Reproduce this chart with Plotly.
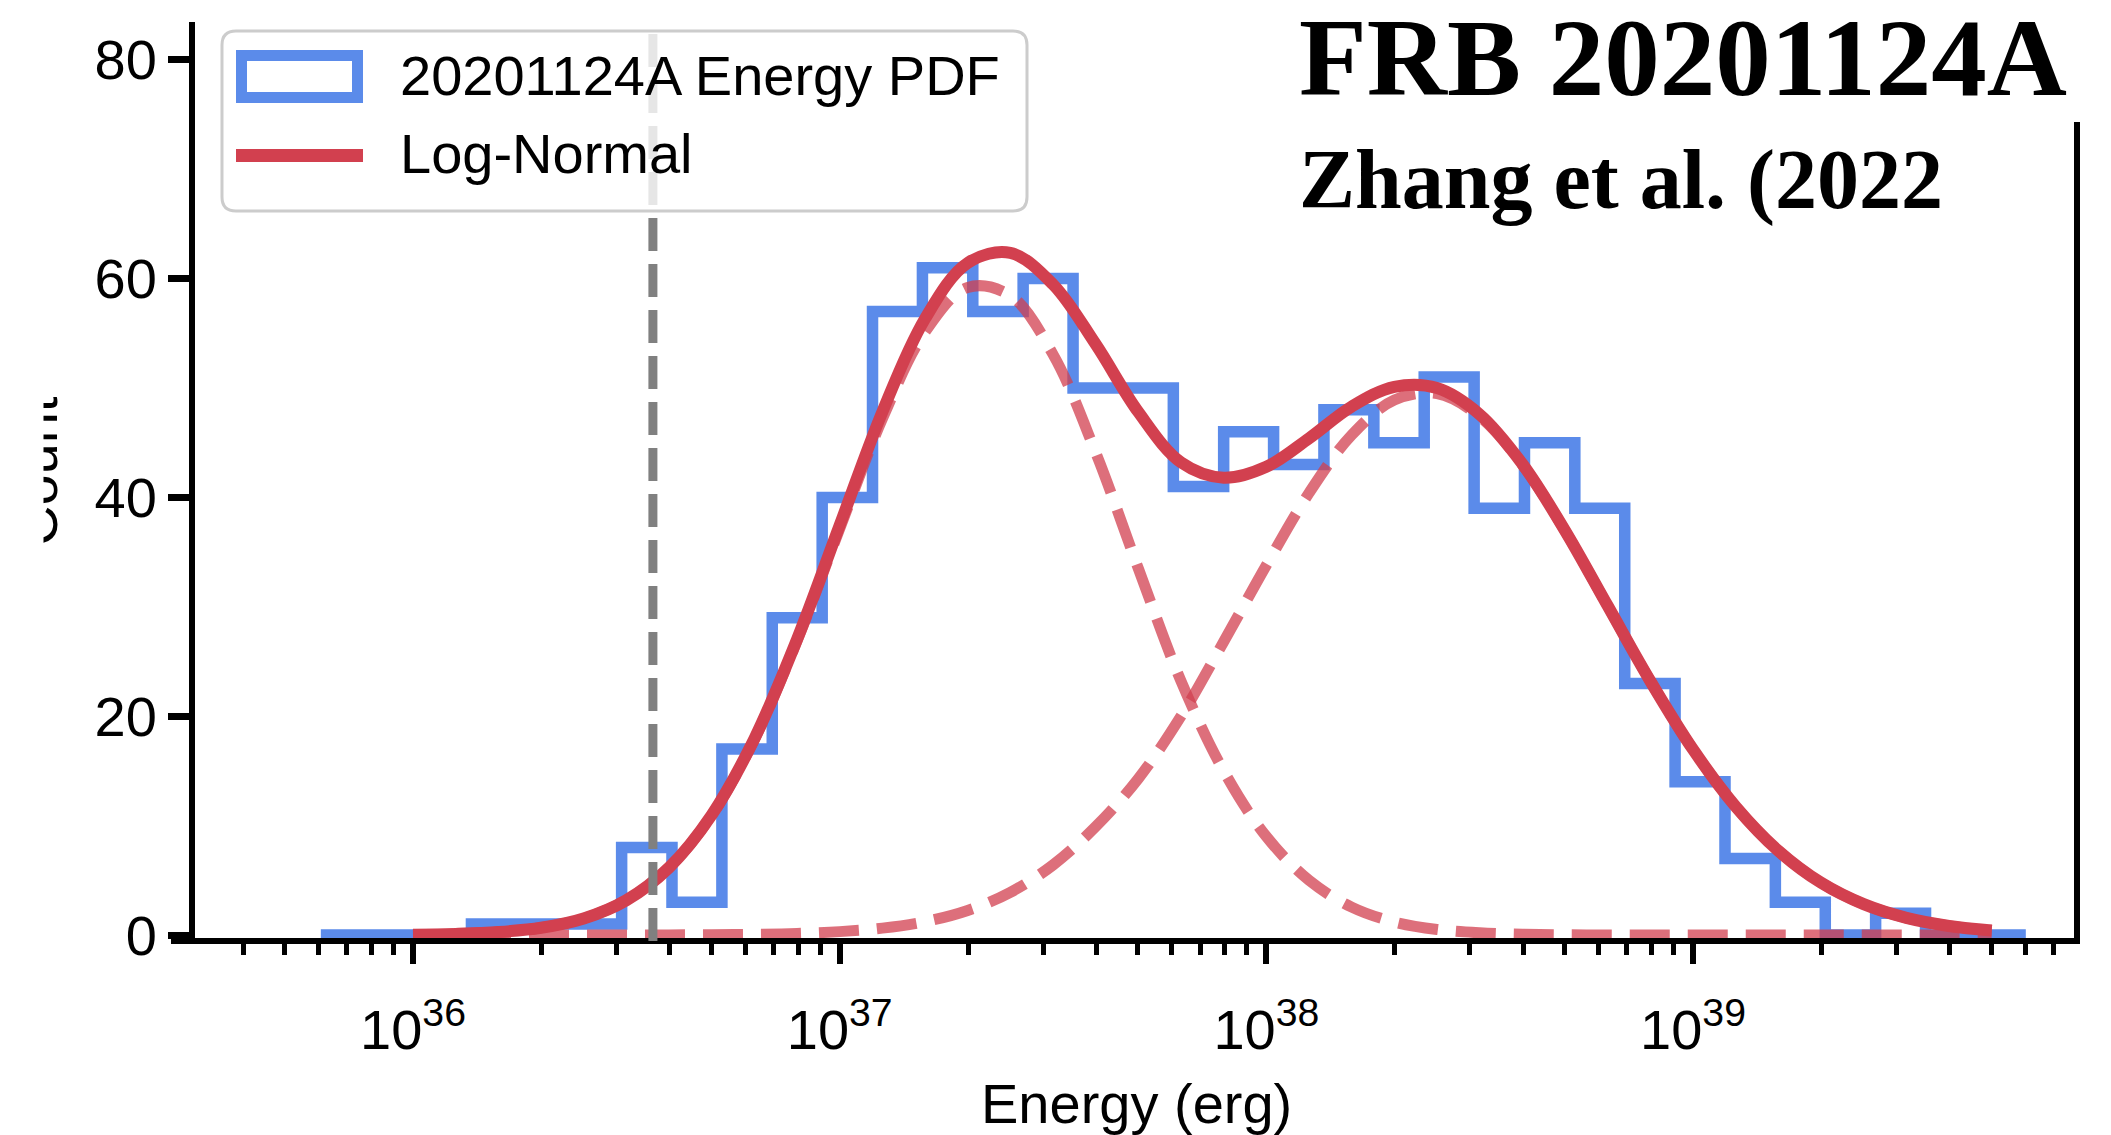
import plotly.graph_objects as go

# ---------------- data ----------------
# step histogram: bin edges (log10 erg) and counts per bin
bin_edges_log10 = [35.784, 35.902, 36.019, 36.137, 36.254, 36.372, 36.489, 36.607,
                   36.724, 36.842, 36.959, 37.077, 37.194, 37.312, 37.430, 37.547,
                   37.665, 37.782, 37.900, 38.017, 38.135, 38.252, 38.370, 38.487,
                   38.605, 38.723, 38.840, 38.958, 39.075, 39.193, 39.310, 39.428,
                   39.545, 39.663, 39.780]
bin_counts = [0, 0, 0, 1, 1, 1, 8, 3, 17, 29, 40, 57, 61, 57, 60, 50, 50, 41,
              46, 43, 48, 45, 51, 39, 45, 39, 23, 14, 7, 3, 0, 2, 0, 0]

# log-normal curves (log10 erg, count)
curve_log10_energy = [36.0, 36.1, 36.2, 36.3, 36.4, 36.5, 36.6, 36.7, 36.8, 36.9,
                      37.0, 37.1, 37.2, 37.3, 37.4, 37.5, 37.6, 37.7, 37.8, 37.9,
                      38.0, 38.1, 38.2, 38.3, 38.4, 38.5, 38.6, 38.7, 38.8, 38.9,
                      39.0, 39.1, 39.2, 39.3, 39.4, 39.5, 39.6, 39.7]
lognormal_total = [0.03, 0.10, 0.27, 0.66, 1.51, 3.18, 6.16, 10.97, 17.93, 27.01,
                   37.44, 47.81, 56.33, 61.43, 62.35, 59.47, 54.0, 47.8, 43.2, 41.8,
                   42.8, 45.4, 48.3, 50.1, 49.99, 47.58, 43.06, 36.97, 30.09, 23.21,
                   16.96, 11.74, 7.70, 4.78, 2.82, 1.57, 0.83, 0.42]
lognormal_low = [0.03, 0.10, 0.27, 0.66, 1.51, 3.18, 6.15, 10.94, 17.87, 26.87,
                 37.13, 47.18, 55.11, 59.19, 58.45, 53.07, 44.10, 33.50, 23.20, 15.00,
                 9.00, 5.00, 2.55, 1.19, 0.51, 0.20, 0.07, 0.02, 0.01, 0.0,
                 0.0, 0.0, 0.0, 0.0, 0.0, 0.0, 0.0, 0.0]
lognormal_high = [0.0, 0.0, 0.0, 0.0, 0.0, 0.0, 0.01, 0.03, 0.06, 0.14,
                  0.31, 0.63, 1.22, 2.24, 3.90, 6.40, 9.90, 14.30, 20.00, 26.80,
                  33.80, 40.40, 45.70, 48.90, 49.48, 47.38, 42.99, 36.95, 30.08, 23.21,
                  16.96, 11.74, 7.70, 4.78, 2.82, 1.57, 0.83, 0.42]

threshold_energy = 3.65e36
major_tick_exponents = [36, 37, 38, 39]
y_tick_values = [0, 20, 40, 60, 80]

hist_label = "20201124A Energy PDF"
fit_label = "Log-Normal"
title_line1 = "FRB 20201124A"
title_line2 = "Zhang et al. (2022"
x_title = "Energy (erg)"
y_title = "Count"

# ---------------- styling / layout geometry ----------------
W, H = 2111, 1135
PL, PR, PT, PB = 195, 2077, 22, 938
BLUE = "#5b8bea"
RED = "#d2404f"
GRAY = "#808080"
SANS = "Liberation Sans, Arial, sans-serif"
SERIF = "Liberation Serif, Times New Roman, serif"

DECADE_PX = 426.67
E36_PX = 413.0
ZERO_PX = 941.0
UNIT_PX = 11.0125

x_range = [36 - (E36_PX - PL) / DECADE_PX, 39 + (PR - (E36_PX + 3 * DECADE_PX)) / DECADE_PX]
y_range = [-(ZERO_PX - PB) / UNIT_PX, (ZERO_PX - PT) / UNIT_PX]


def xp(px):
    return (px - PL) / (PR - PL)


def yp(py):
    return (PB - py) / (PB - PT)


# ---------------- traces ----------------
edges = [10.0 ** v for v in bin_edges_log10]
step_x = [edges[0]] + edges
step_y = [0] + bin_counts + [0]
curve_x = [10.0 ** v for v in curve_log10_energy]

fig = go.Figure()
fig.add_trace(go.Scatter(x=step_x, y=step_y, mode="lines", line_shape="hv",
                         line=dict(color=BLUE, width=11.5), name=hist_label,
                         showlegend=False))
fig.add_trace(go.Scatter(x=curve_x, y=lognormal_low, mode="lines", line_shape="spline",
                         line=dict(color=RED, width=11, dash="40px,18px"), opacity=0.75,
                         showlegend=False))
fig.add_trace(go.Scatter(x=curve_x, y=lognormal_high, mode="lines", line_shape="spline",
                         line=dict(color=RED, width=11, dash="40px,18px"), opacity=0.75,
                         showlegend=False))
fig.add_trace(go.Scatter(x=curve_x, y=lognormal_total, mode="lines", line_shape="spline",
                         line=dict(color=RED, width=12), name=fit_label, showlegend=False))


# ---------------- shapes (threshold line, legend frame, spines) ----------------
def rounded_rect(x0, y0, x1, y1, r):
    def P(x, y):
        return f"{xp(x):.6f},{yp(y):.6f}"
    return (f"M {P(x0 + r, y0)} L {P(x1 - r, y0)} Q {P(x1, y0)} {P(x1, y0 + r)} "
            f"L {P(x1, y1 - r)} Q {P(x1, y1)} {P(x1 - r, y1)} L {P(x0 + r, y1)} "
            f"Q {P(x0, y1)} {P(x0, y1 - r)} L {P(x0, y0 + r)} Q {P(x0, y0)} {P(x0 + r, y0)} Z")


shapes = [
    dict(type="line", xref="x", yref="paper", x0=threshold_energy, x1=threshold_energy,
         y0=yp(ZERO_PX), y1=1, line=dict(color=GRAY, width=9, dash="33px,13px"), layer="above"),
    dict(type="path", xref="paper", yref="paper", path=rounded_rect(222, 31, 1027, 211, 14),
         fillcolor="rgba(255,255,255,0.8)", line=dict(color="#cccccc", width=3), layer="above"),
    dict(type="rect", xref="paper", yref="paper", x0=xp(241.5), x1=xp(357.5),
         y0=yp(97.5), y1=yp(55.5), fillcolor="rgba(0,0,0,0)",
         line=dict(color=BLUE, width=11), layer="above"),
    dict(type="line", xref="paper", yref="paper", x0=xp(236), x1=xp(363),
         y0=yp(155.5), y1=yp(155.5), line=dict(color=RED, width=13), layer="above"),
    # right spine (upper part hidden behind the title block)
    dict(type="line", xref="paper", yref="paper", x0=xp(PR), x1=xp(PR),
         y0=yp(122), y1=yp(944), line=dict(color="black", width=6), layer="above"),
    # small left extension of the bottom spine
    dict(type="line", xref="paper", yref="paper", x0=xp(171), x1=xp(PL + 2),
         y0=yp(ZERO_PX), y1=yp(ZERO_PX), line=dict(color="black", width=6), layer="above"),
]

annotations = [
    dict(text=hist_label, x=xp(398), y=yp(76), xanchor="left", yanchor="middle",
         font=dict(family=SANS, size=56, color="black")),
    dict(text=fit_label, x=xp(398), y=yp(153), xanchor="left", yanchor="middle",
         font=dict(family=SANS, size=56, color="black")),
    dict(text=title_line1, x=xp(1297), y=yp(58), xanchor="left", yanchor="middle",
         font=dict(family=SERIF, size=111, color="black", weight="bold")),
    dict(text=title_line2, x=xp(1297), y=yp(180), xanchor="left", yanchor="middle",
         font=dict(family=SERIF, size=84, color="black", weight="bold")),
    dict(text=x_title, x=xp(1136), y=yp(1103), xanchor="center", yanchor="middle",
         font=dict(family=SANS, size=56, color="black")),
    dict(text=y_title, x=xp(37), y=yp(471), xanchor="center", yanchor="middle",
         textangle=-90, font=dict(family=SANS, size=56, color="black")),
    dict(text=" ", x=xp(0), y=yp(471), xanchor="left", yanchor="middle",
         width=42, height=340, bgcolor="white", borderpad=0,
         font=dict(family=SANS, size=10, color="white")),
]
for a in annotations:
    a.update(xref="paper", yref="paper", showarrow=False)

minor_vals = [m * 10.0 ** e for e in range(35, 40) for m in range(2, 10)]

fig.update_layout(
    width=W, height=H,
    margin=dict(l=PL, r=W - PR, t=PT, b=H - PB, pad=0),
    paper_bgcolor="white", plot_bgcolor="white",
    showlegend=False,
    shapes=shapes,
    annotations=annotations,
    xaxis=dict(
        type="log", range=x_range, showgrid=False, zeroline=False,
        showline=True, linecolor="black", linewidth=6,
        ticks="outside", ticklen=20, tickwidth=6, tickcolor="black",
        tickvals=[10.0 ** e for e in major_tick_exponents],
        ticktext=[f"10<sup>{e}</sup>" for e in major_tick_exponents],
        tickfont=dict(family=SANS, size=56, color="black"),
        ticklabelstandoff=18,
        minor=dict(tickvals=minor_vals, ticks="outside", ticklen=11, tickwidth=4.5,
                   tickcolor="black", showgrid=False),
    ),
    yaxis=dict(
        range=y_range, showgrid=False, zeroline=False,
        showline=True, linecolor="black", linewidth=6,
        ticks="outside", ticklen=21, tickwidth=7, tickcolor="black",
        tickvals=y_tick_values,
        tickfont=dict(family=SANS, size=56, color="black"),
    ),
)

fig.write_html("out.html")
